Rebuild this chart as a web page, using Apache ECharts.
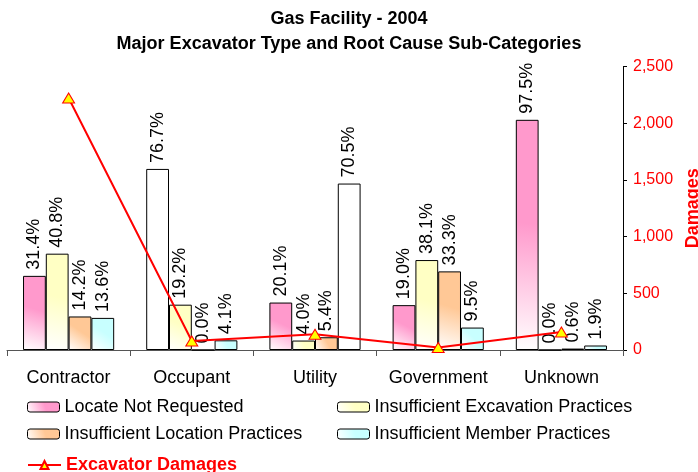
<!DOCTYPE html>
<html>
<head>
<meta charset="utf-8">
<title>Gas Facility - 2004</title>
<script src="https://cdn.jsdelivr.net/npm/echarts@6/dist/echarts.min.js"></script>
<style>
  html, body { margin: 0; padding: 0; background: #ffffff; }
  #chart { width: 698px; height: 472px; }
</style>
</head>
<body>
<div id="chart"></div>
<script>
// Excavator types along the category axis
const categories = ['Contractor', 'Occupant', 'Utility', 'Government', 'Unknown'];

// Root cause sub-category shares (percent of each excavator type)
const locateNotRequested     = [31.4, 76.7, 20.1, 19.0, 97.5];
const insufficientExcavation = [40.8, 19.2, 4.0, 38.1, 0.0];
const insufficientLocation   = [14.2, 0.0, 5.4, 33.3, 0.6];
const insufficientMember     = [13.6, 4.1, 70.5, 9.5, 1.9];

// Total excavator damages per type (right axis)
const excavatorDamages = [2224, 80, 139, 22, 159];

// Right axis scale
const damagesMin = 0;
const damagesMax = 2500;
const damagesStep = 500;

const FONT = '"Liberation Sans", Arial, Helvetica, sans-serif';

// Diagonal fade from white (lower left) to the series colour (upper right)
function fill(c) {
  return new echarts.graphic.LinearGradient(0, 1, 1, 0, [
    { offset: 0, color: '#ffffff' },
    { offset: 0.55, color: c },
    { offset: 1, color: c }
  ]);
}

const seriesDefs = [
  { name: 'Locate Not Requested', values: locateNotRequested, color: '#FF99CC', plain: [1] },
  { name: 'Insufficient Excavation Practices', values: insufficientExcavation, color: '#FFFFC4', plain: [] },
  { name: 'Insufficient Location Practices', values: insufficientLocation, color: '#FFC896', plain: [] },
  { name: 'Insufficient Member Practices', values: insufficientMember, color: '#C8FFFF', plain: [2] }
];

const barSeries = seriesDefs.map(function (d) {
  return {
    name: d.name,
    type: 'bar',
    xAxisIndex: 0,
    yAxisIndex: 0,
    barGap: '0%',
    barCategoryGap: '26%',
    itemStyle: { color: fill(d.color), borderColor: '#000000', borderWidth: 1 },
    label: {
      show: true,
      position: 'top',
      rotate: 90,
      align: 'left',
      verticalAlign: 'middle',
      distance: 6,
      fontSize: 18,
      color: '#000000',
      fontFamily: FONT,
      formatter: function (p) { return p.value.toFixed(1) + '%'; }
    },
    data: d.values.map(function (v, i) {
      return d.plain.indexOf(i) >= 0
        ? { value: v, itemStyle: { color: '#ffffff' } }
        : v;
    }),
    z: 2
  };
});

const lineSeries = {
  name: 'Excavator Damages',
  type: 'line',
  xAxisIndex: 0,
  yAxisIndex: 1,
  data: excavatorDamages,
  symbol: 'triangle',
  symbolSize: [12, 10],
  lineStyle: { color: '#FF0000', width: 2 },
  itemStyle: { color: '#FFFF00', borderColor: '#FF0000', borderWidth: 1 },
  z: 5
};

function legendBox(name, left, top, extra) {
  return Object.assign({
    data: [name],
    left: left,
    top: top,
    padding: 0,
    itemWidth: 32,
    itemHeight: 10,
    itemGap: 5,
    selectedMode: false,
    textStyle: { fontSize: 18, color: '#000000', fontFamily: FONT }
  }, extra || {});
}

const chart = echarts.init(document.getElementById('chart'), null, { renderer: 'canvas' });

chart.setOption({
  animation: false,
  backgroundColor: '#ffffff',
  textStyle: { fontFamily: FONT },
  title: {
    text: 'Gas Facility - 2004\nMajor Excavator Type and Root Cause Sub-Categories',
    left: 'center',
    top: 7,
    padding: 0,
    textStyle: { fontSize: 18, fontWeight: 'bold', color: '#000000', lineHeight: 25, fontFamily: FONT }
  },
  grid: {
    left: 7,
    right: 75,
    top: 66.7,
    bottom: 122,
    containLabel: false,
    outerBoundsMode: 'none'
  },
  legend: [
    legendBox('Locate Not Requested', 27, 398, { itemStyle: { borderColor: '#000', borderWidth: 1 } }),
    legendBox('Insufficient Excavation Practices', 337, 398, { itemStyle: { borderColor: '#000', borderWidth: 1 } }),
    legendBox('Insufficient Location Practices', 27, 425, { itemStyle: { borderColor: '#000', borderWidth: 1 } }),
    legendBox('Insufficient Member Practices', 337, 425, { itemStyle: { borderColor: '#000', borderWidth: 1 } }),
    legendBox('Excavator Damages', 27, 456, {
      itemWidth: 33,
      textStyle: { fontSize: 18, color: '#FF0000', fontWeight: 'bold', fontFamily: FONT }
    })
  ],
  xAxis: [{
    type: 'category',
    data: categories,
    axisLine: { show: true, lineStyle: { color: '#555555', width: 1 } },
    axisTick: { show: true, length: 6, lineStyle: { color: '#555555' } },
    axisLabel: { interval: 0, hideOverlap: false, fontSize: 18, color: '#000000', margin: 19, fontFamily: FONT }
  }],
  yAxis: [
    {
      type: 'value',
      min: 0,
      max: 120,
      show: false,
      splitLine: { show: false }
    },
    {
      type: 'value',
      position: 'right',
      min: damagesMin,
      max: damagesMax,
      interval: damagesStep,
      name: 'Damages',
      nameLocation: 'middle',
      nameRotate: 90,
      nameGap: 58,
      nameTextStyle: { fontSize: 18, fontWeight: 'bold', color: '#FF0000', fontFamily: FONT },
      axisLine: { show: true, lineStyle: { color: '#000000', width: 1 } },
      axisTick: { show: true, length: 4, lineStyle: { color: '#000000' } },
      axisLabel: {
        fontSize: 16,
        color: '#FF0000',
        margin: 10,
        fontFamily: FONT,
        formatter: function (v) { return v.toLocaleString('en-US'); }
      },
      splitLine: { show: false }
    }
  ],
  series: barSeries.concat([lineSeries])
});
</script>
</body>
</html>
